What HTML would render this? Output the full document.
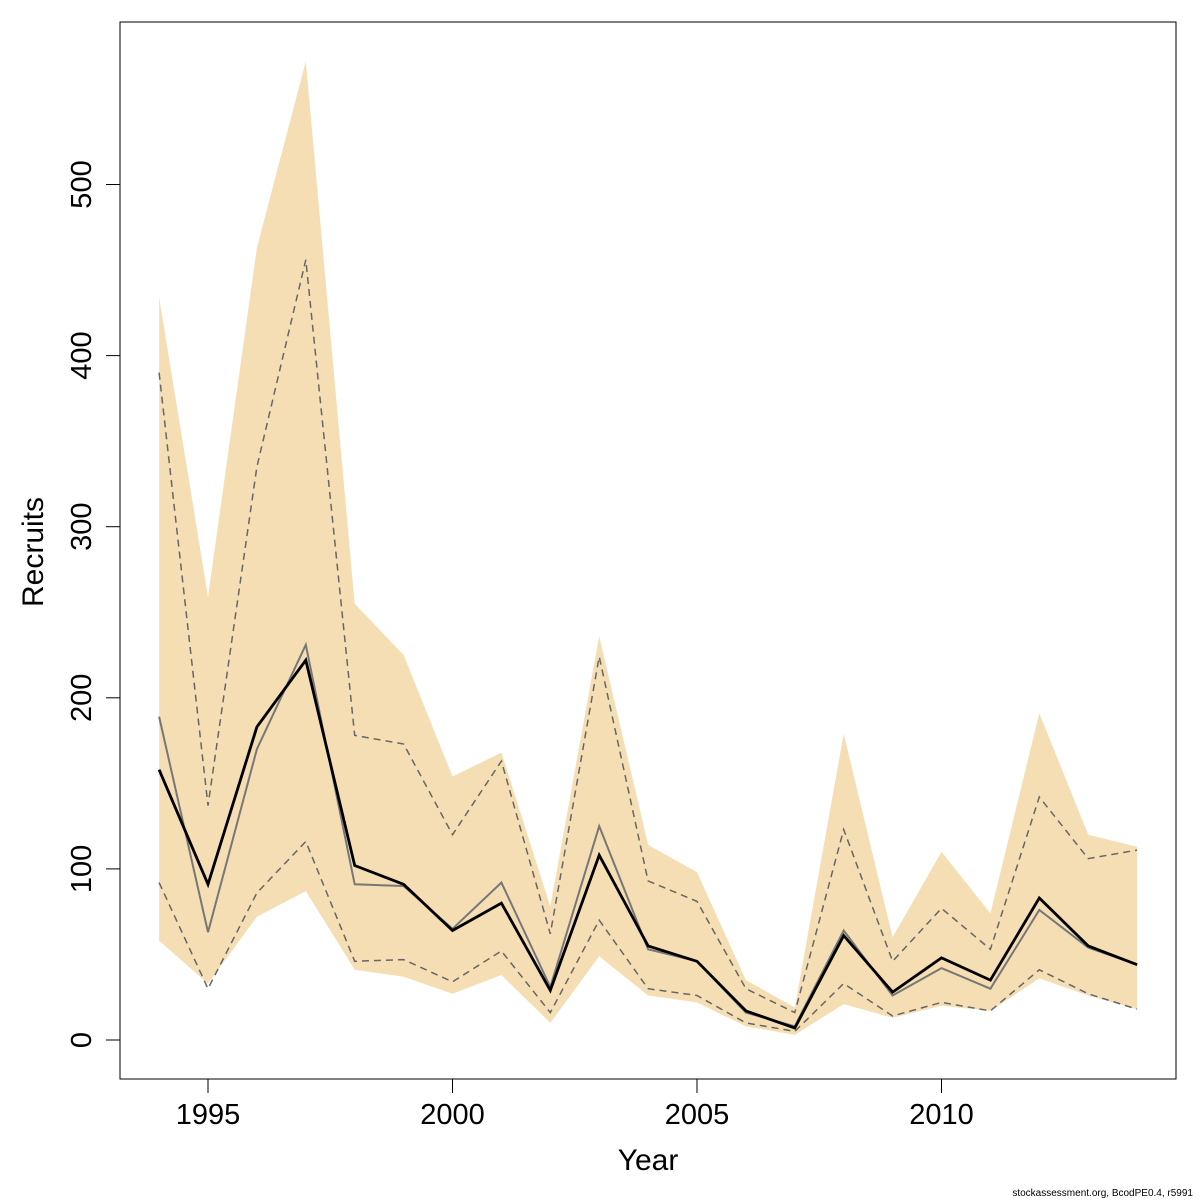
<!DOCTYPE html>
<html><head><meta charset="utf-8"><style>
html,body{margin:0;padding:0;background:#fff;}
svg{display:block;font-family:"Liberation Sans","DejaVu Sans",sans-serif;}
</style></head><body>
<svg id="chart" width="1200" height="1200" viewBox="0 0 1200 1200">
<g id="marks"></g>
<rect x="120" y="22" width="1056" height="1057" fill="none" stroke="#000" stroke-width="1"/>
<g id="axes"></g>
<text x="648" y="1170" font-size="30" text-anchor="middle">Year</text>
<text transform="translate(43,552) rotate(-90)" font-size="30" text-anchor="middle">Recruits</text>
<text x="1193" y="1196" font-size="10" text-anchor="end">stockassessment.org, BcodPE0.4, r5991</text>
</svg>
<script>
const years=[1994,1995,1996,1997,1998,1999,2000,2001,2002,2003,2004,2005,2006,2007,2008,2009,2010,2011,2012,2013,2014];
const bandUpper=[434,259,463,572,255,225,154,168,78,236,114,98,35,19,179,60,110,74,191,120,113];
const bandLower=[58,33,72,87,41,37,27,38,10,49,26,22,8,3,21,13,20,17,36,26,18];
const dashUpper=[390,137,335,456,178,173,120,163,62,224,93,81,30,16,123,46,77,53,142,106,111];
const dashLower=[92,30,86,116,46,47,34,52,16,70,30,26,10,5,33,14,22,17,41,27,18];
const greyLine=[189,63,170,231,91,90,65,92,31,125,53,46,16,8,64,26,42,30,76,54,44];
const blackLine=[158,91,183,222,102,91,64,80,29,108,55,46,17,7,61,28,48,35,83,55,44];
const xTicks=[1995,2000,2005,2010];
const yTicks=[0,100,200,300,400,500];

const NS="http://www.w3.org/2000/svg";
function xs(yr){return 208+(yr-1995)*48.9;}
function ys(v){return 1040-v*1.711;}
function pts(arr){return arr.map((v,i)=>xs(years[i]).toFixed(1)+","+ys(v).toFixed(1)).join(" ");}
const marks=document.getElementById("marks");
const axes=document.getElementById("axes");

const band=document.createElementNS(NS,"polygon");
band.setAttribute("points",pts(bandUpper)+" "+bandLower.map((v,i)=>[xs(years[i]).toFixed(1)+","+ys(v).toFixed(1)]).reverse().join(" "));
band.setAttribute("fill","#F5DEB3");


marks.appendChild(band);

function line(arr,stroke,w,dash,name){
  const p=document.createElementNS(NS,"polyline");
  p.setAttribute("points",pts(arr));
  p.setAttribute("fill","none");
  p.setAttribute("stroke",stroke);
  p.setAttribute("stroke-width",w);
  if(dash)p.setAttribute("stroke-dasharray",dash);
  
  
  marks.appendChild(p);
}
line(dashUpper,"#666",1.5,"7,5","upper-dashed-line");
line(dashLower,"#666",1.5,"7,5","lower-dashed-line");
line(greyLine,"#777",2,null,"grey-estimate-line");
line(blackLine,"#000",2.8,null,"recruits-line");

xTicks.forEach(t=>{
  const l=document.createElementNS(NS,"line");
  l.setAttribute("x1",xs(t));l.setAttribute("x2",xs(t));
  l.setAttribute("y1",1079);l.setAttribute("y2",1093);
  l.setAttribute("stroke","#000");
  
  
  axes.appendChild(l);
  const tx=document.createElementNS(NS,"text");
  tx.setAttribute("x",xs(t));tx.setAttribute("y",1124);
  tx.setAttribute("font-size","29");tx.setAttribute("text-anchor","middle");
  tx.textContent=t;
  
  
  axes.appendChild(tx);
});
yTicks.forEach(t=>{
  const l=document.createElementNS(NS,"line");
  l.setAttribute("x1",106);l.setAttribute("x2",120);
  l.setAttribute("y1",ys(t));l.setAttribute("y2",ys(t));
  l.setAttribute("stroke","#000");
  
  
  axes.appendChild(l);
  const tx=document.createElementNS(NS,"text");
  tx.setAttribute("transform","translate(91,"+ys(t)+") rotate(-90)");
  tx.setAttribute("font-size","29");tx.setAttribute("text-anchor","middle");
  tx.textContent=t;
  
  
  axes.appendChild(tx);
});
</script>
</body></html>
